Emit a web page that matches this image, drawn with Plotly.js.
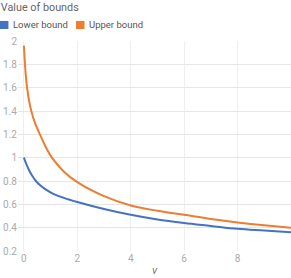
<!DOCTYPE html>
<html>
<head>
<meta charset="utf-8">
<script src="https://cdn.plot.ly/plotly-3.0.1.min.js"></script>
<style>html,body{margin:0;padding:0;background:#fff;}#chart{width:291px;height:278px;}</style>
</head>
<body>
<div id="chart"></div>
<script>
// Data
const lowerNu = [0, 0.1, 0.2, 0.3, 0.45, 0.6, 0.8, 1.1, 1.5, 2, 3, 4, 5, 6, 7, 8, 9, 10];
const lowerVal = [1.0, 0.94, 0.89, 0.85, 0.8, 0.765, 0.73, 0.69, 0.655, 0.62, 0.56, 0.51, 0.47, 0.44, 0.415, 0.39, 0.375, 0.36];
const upperNu = [0, 0.03, 0.07, 0.12, 0.2, 0.29, 0.43, 0.6, 0.8, 1.05, 1.5, 2, 3, 4, 5, 6, 7, 8, 9, 10];
const upperVal = [1.96, 1.84, 1.71, 1.6, 1.48, 1.39, 1.29, 1.2, 1.1, 1.0, 0.88, 0.79, 0.67, 0.59, 0.545, 0.51, 0.475, 0.445, 0.42, 0.40];
const seriesNames = ['Lower bound', 'Upper bound'];
const seriesColors = ['#4472C4', '#ED7D31'];
const yTicks = [0.2, 0.4, 0.6, 0.8, 1, 1.2, 1.4, 1.6, 1.8, 2];
const xTicks = [0, 2, 4, 6, 8];

const fam = 'Roboto, "Liberation Sans", sans-serif';
const traces = [
  {x: lowerNu, y: lowerVal, name: seriesNames[0], type: 'scatter', mode: 'lines', line: {color: seriesColors[0], width: 2, shape: 'spline', smoothing: 1}, hoverinfo: 'skip'},
  {x: upperNu, y: upperVal, name: seriesNames[1], type: 'scatter', mode: 'lines', line: {color: seriesColors[1], width: 2, shape: 'spline', smoothing: 1}, hoverinfo: 'skip'}
];

// legend drawn as squares + text (paper coordinates, outside the plot area)
const legendX = [[-0.066, -0.035, -0.024], [0.2125, 0.2436, 0.2545]];
const shapes = [], annotations = [];
seriesNames.forEach((n, i) => {
  shapes.push({type: 'rect', xref: 'paper', yref: 'paper', x0: legendX[i][0], x1: legendX[i][1], y0: 1.057, y1: 1.0955, fillcolor: seriesColors[i], line: {width: 0}});
  annotations.push({text: n, xref: 'paper', yref: 'paper', x: legendX[i][2], y: 1.0762, xanchor: 'left', yanchor: 'middle', showarrow: false, font: {family: fam, size: 9.5, color: '#555'}});
});

const layout = {
  width: 291, height: 278,
  margin: {l: 18, r: 0, t: 41, b: 27, pad: 0},
  paper_bgcolor: '#fff', plot_bgcolor: '#fff',
  font: {family: fam, color: '#999', size: 10},
  title: {text: 'Value of bounds', x: 0.003, xanchor: 'left', xref: 'container', y: 0.974, yanchor: 'middle', yref: 'container', font: {family: fam, size: 10.8, color: '#666'}},
  showlegend: false,
  shapes: shapes,
  annotations: annotations,
  xaxis: {range: [-0.22, 10], tickvals: xTicks, ticktext: xTicks.map(String), showgrid: true, gridcolor: '#efefef', zeroline: false, showline: false, ticks: '', tickfont: {size: 10, color: '#aaa'},
    title: {text: '<i>ν</i>', standoff: 3, font: {size: 11, color: '#777'}}, automargin: false, fixedrange: true},
  yaxis: {range: [0.2, 2], tickvals: yTicks, ticktext: yTicks.map(String), showgrid: true, gridcolor: '#e6e6e6', zeroline: false, showline: false, ticks: '', tickfont: {size: 10, color: '#aaa'}, automargin: false, fixedrange: true}
};
Plotly.newPlot('chart', traces, layout, {staticPlot: true, displayModeBar: false});
</script>
</body>
</html>
